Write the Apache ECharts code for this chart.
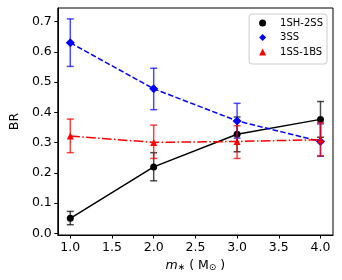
<!DOCTYPE html>
<html><head><meta charset="utf-8">
<script src="https://cdn.jsdelivr.net/npm/echarts@6/dist/echarts.min.js"></script>
<style>html,body{margin:0;padding:0;background:#fff}#c{width:342px;height:280px}</style>
</head><body><div id="c"></div>
<script>
const xValues = [1.0, 2.0, 3.0, 4.0];
const xTicks = [1.0, 1.5, 2.0, 2.5, 3.0, 3.5, 4.0];
const yTicks = [0.0, 0.1, 0.2, 0.3, 0.4, 0.5, 0.6, 0.7];

const names = ['1SH-2SS', '3SS', '1SS-1BS'];
const sh2ss = [0.05, 0.22, 0.328, 0.377];
const sh2ssLo = [0.029, 0.174, 0.27, 0.318];
const sh2ssHi = [0.073, 0.267, 0.385, 0.436];
const ss3 = [0.63, 0.478, 0.372, 0.304];
const ss3Lo = [0.552, 0.409, 0.315, 0.255];
const ss3Hi = [0.709, 0.546, 0.43, 0.362];
const ss1bs = [0.322, 0.301, 0.304, 0.31];
const ss1bsLo = [0.267, 0.248, 0.248, 0.257];
const ss1bsHi = [0.378, 0.358, 0.356, 0.366];

const FONT = 'DejaVu Sans';
const defs = [
  {name: names[0], v: sh2ss, lo: sh2ssLo, hi: sh2ssHi, color: '#000000', sym: 'circle', size: 7, dash: 'solid', errColor: 'rgba(0,0,0,0.7)'},
  {name: names[1], v: ss3, lo: ss3Lo, hi: ss3Hi, color: '#0000ff', sym: 'diamond', size: 9, dash: [5.5, 2.4], errColor: 'rgba(0,0,255,0.7)'},
  {name: names[2], v: ss1bs, lo: ss1bsLo, hi: ss1bsHi, color: '#ff0000', sym: 'triangle', size: 7, dash: [9.6, 2.4, 1.5, 2.4], errColor: 'rgba(255,0,0,0.75)'}
];

const series = [];
defs.forEach((d, i) => {
  series.push({
    type: 'custom',
    name: d.name + '-err',
    z: 2 + i * 2,
    silent: true,
    data: xValues.map((x, k) => [x, d.lo[k], d.hi[k]]),
    renderItem: function (params, api) {
      const x = api.value(0);
      const a = api.coord([x, api.value(1)]);
      const b = api.coord([x, api.value(2)]);
      const w = 3.5;
      const st = {stroke: d.errColor, lineWidth: 1.5};
      return {type: 'group', children: [
        {type: 'line', shape: {x1: a[0], y1: a[1], x2: b[0], y2: b[1]}, style: st},
        {type: 'line', shape: {x1: a[0] - w, y1: a[1], x2: a[0] + w, y2: a[1]}, style: st},
        {type: 'line', shape: {x1: b[0] - w, y1: b[1], x2: b[0] + w, y2: b[1]}, style: st}
      ]};
    }
  });
  series.push({
    type: 'line',
    name: d.name,
    z: 3 + i * 2,
    data: xValues.map((x, k) => [x, d.v[k]]),
    symbol: d.sym,
    symbolSize: d.size,
    showAllSymbol: true,
    lineStyle: {color: d.color, width: 1.5, type: d.dash},
    itemStyle: {color: d.color},
    animation: false
  });
});

const chart = echarts.init(document.getElementById('c'), null, {renderer: 'canvas'});
chart.setOption({
  animation: false,
  grid: {left: 53, right: 9, top: 8, bottom: 45, show: true, borderColor: '#000', borderWidth: 1, backgroundColor: 'transparent'},
  legend: {
    data: defs.map(d => ({name: d.name, icon: d.sym})),
    orient: 'vertical', right: 15, top: 14,
    itemWidth: 7, itemHeight: 7, itemGap: 4.5,
    padding: [4, 4, 7, 10],
    backgroundColor: '#fff', borderColor: '#ccc', borderWidth: 1, borderRadius: 3,
    textStyle: {fontFamily: FONT, fontSize: 10, color: '#000', padding: [0, 0, 0, 9]}
  },
  xAxis: {
    type: 'value', min: 0.85, max: 4.15,
    splitLine: {show: false},
    axisLine: {show: true, onZero: false, lineStyle: {color: '#000', width: 1}},
    axisTick: {show: true, length: 3.5, customValues: xTicks, lineStyle: {color: '#000'}},
    axisLabel: {customValues: xTicks, formatter: v => v.toFixed(1), fontFamily: FONT, fontSize: 12.5, color: '#000', margin: 6},
    name: '{i|m}{s|∗} ( M{o|⊙} )',
    nameLocation: 'middle', nameGap: 22,
    nameTextStyle: {fontFamily: FONT, fontSize: 12.5, color: '#000',
      rich: {i: {fontFamily: FONT, fontStyle: 'italic', fontSize: 12.5, color: '#000'},
             s: {fontFamily: FONT, fontSize: 9, color: '#000', padding: [4, 0, 0, 0]},
             o: {fontFamily: FONT, fontSize: 9, color: '#000', padding: [5, 0, 0, 0]}}}
  },
  yAxis: {
    type: 'value', min: -0.005, max: 0.745,
    splitLine: {show: false},
    axisLine: {show: true, onZero: false, lineStyle: {color: '#000', width: 1}},
    axisTick: {show: true, length: 3.5, customValues: yTicks, lineStyle: {color: '#000'}},
    axisLabel: {customValues: yTicks, formatter: v => v.toFixed(1), fontFamily: FONT, fontSize: 12.5, color: '#000', margin: 6},
    name: 'BR', nameLocation: 'middle', nameGap: 36, nameRotate: 90,
    nameTextStyle: {fontFamily: FONT, fontSize: 12.5, color: '#000'}
  },
  series: series
});
</script>
</body></html>
